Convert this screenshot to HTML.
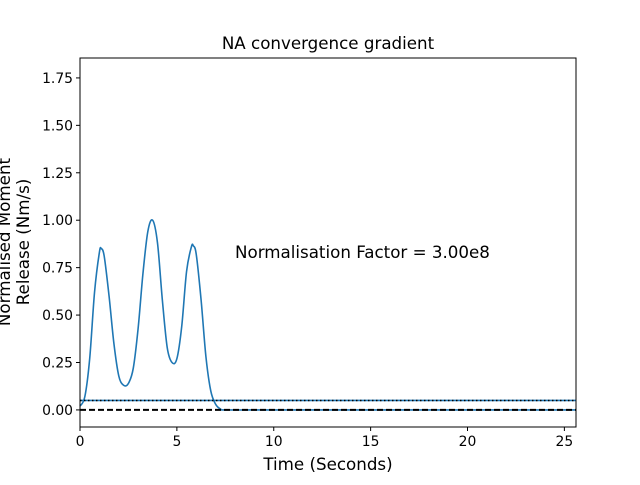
<!DOCTYPE html>
<html><head><meta charset="utf-8"><style>
body{margin:0;background:#fff}
svg text{font-family:"DejaVu Sans","Liberation Sans",sans-serif;fill:#000}
</style></head><body>
<svg id="c" width="640" height="480" viewBox="0 0 640 480">
<rect width="640" height="480" fill="#fff"/>
<text x="328" y="49" font-size="16.7" text-anchor="middle">NA convergence gradient</text>
<g id="plot"></g>
<text x="328" y="470" font-size="16.7" text-anchor="middle">Time (Seconds)</text>
<text transform="translate(10,242) rotate(-90)" font-size="16.7" text-anchor="middle"><tspan x="0" dy="0">Normalised Moment</tspan><tspan x="0" dy="19">Release (Nm/s)</tspan></text>
<text x="235" y="258" font-size="16.7">Normalisation Factor = 3.00e8</text>
</svg>
<script>
const times=[0,0.25,0.5,0.75,1.0,1.1,1.25,1.5,1.75,2.0,2.25,2.5,2.75,3.0,3.25,3.5,3.75,4.0,4.25,4.5,4.75,5.0,5.25,5.5,5.75,5.85,6.0,6.25,6.5,6.75,7.0,7.25,7.5,10,15,20,25.6];
const rates=[0.02,0.07,0.27,0.62,0.83,0.85,0.81,0.6,0.35,0.18,0.13,0.14,0.22,0.43,0.72,0.94,1.0,0.88,0.58,0.33,0.25,0.27,0.44,0.73,0.86,0.865,0.82,0.58,0.28,0.1,0.03,0.005,0,0,0,0,0];
const xTicks=[0,5,10,15,20,25];
const yTicks=[0,0.25,0.5,0.75,1.0,1.25,1.5,1.75];
const threshold=[0.05];
const baseline=[0];
const L=80,R=576,T=58,B=427,xmin=0,xmax=25.6,ymin=-0.09,ymax=1.855;
const X=v=>L+(v-xmin)/(xmax-xmin)*(R-L);
const Y=v=>B-(v-ymin)/(ymax-ymin)*(B-T);
const g=document.getElementById('plot');
const NS='http://www.w3.org/2000/svg';
function mk(t,a){const e=document.createElementNS(NS,t);for(const k in a)e.setAttribute(k,a[k]);g.appendChild(e);return e;}
// curve (catmull-rom)
const P=times.map((t,i)=>[X(t),Y(rates[i])]);
let d='M'+P[0][0]+','+P[0][1];
for(let i=0;i<P.length-1;i++){const p0=P[i-1]||P[i],p1=P[i],p2=P[i+1],p3=P[i+2]||p2;
d+=` C${p1[0]+(p2[0]-p0[0])/6},${p1[1]+(p2[1]-p0[1])/6} ${p2[0]-(p3[0]-p1[0])/6},${p2[1]-(p3[1]-p1[1])/6} ${p2[0]},${p2[1]}`;}
let e=mk('path',{d:d,fill:'none',stroke:'#1f77b4','stroke-width':1.6});


e=mk('line',{x1:L,x2:R,y1:Y(baseline[0]),y2:Y(baseline[0]),stroke:'#000','stroke-width':2,'stroke-dasharray':'6,3'});


e=mk('line',{x1:L,x2:R,y1:Y(threshold[0]),y2:Y(threshold[0]),stroke:'#1f77b4','stroke-width':1.6});


e=mk('line',{x1:L,x2:R,y1:Y(threshold[0]),y2:Y(threshold[0]),stroke:'#000','stroke-width':1.5,'stroke-dasharray':'1.5,2.5'});


e=mk('rect',{x:L,y:T,width:R-L,height:B-T,fill:'none',stroke:'#000','stroke-width':1});


xTicks.forEach(v=>{mk('line',{x1:X(v),x2:X(v),y1:B,y2:B+4,stroke:'#000'});
const t=mk('text',{x:X(v),y:B+19,'font-size':13.9,'text-anchor':'middle'});t.textContent=v;

});
yTicks.forEach(v=>{mk('line',{x1:L-4,x2:L,y1:Y(v),y2:Y(v),stroke:'#000'});
const t=mk('text',{x:L-7,y:Y(v)+5,'font-size':13.9,'text-anchor':'end'});t.textContent=v.toFixed(2);

});
</script>
</body></html>
